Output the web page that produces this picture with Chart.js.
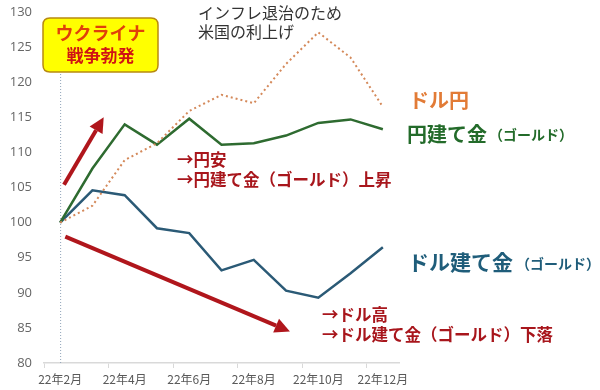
<!DOCTYPE html>
<html>
<head>
<meta charset="utf-8">
<script src="https://cdn.jsdelivr.net/npm/chart.js@4/dist/chart.umd.min.js"></script>
<style>
html,body{margin:0;padding:0;background:#fff;}
#wrap{width:600px;height:390px;position:relative;}
</style>
</head>
<body>
<div id="wrap"><canvas id="c" width="600" height="390"></canvas></div>
<script>
const months = ['22年2月','22年3月','22年4月','22年5月','22年6月','22年7月','22年8月','22年9月','22年10月','22年11月','22年12月'];
const dollarYen  = [100, 102.4, 108.9, 111.3, 115.9, 118.2, 117.0, 122.6, 127.1, 123.5, 116.5];
const yenGold    = [100, 107.7, 114.0, 111.1, 114.8, 111.1, 111.3, 112.4, 114.2, 114.7, 113.3];
const dollarGold = [100, 104.6, 103.9, 99.2, 98.5, 93.2, 94.7, 90.3, 89.3, 92.8, 96.5];
const yTicks = [80, 85, 90, 95, 100, 105, 110, 115, 120, 125, 130];

const JP = '"Noto Sans CJK JP", "Noto Sans", sans-serif';

function arrow(ctx, x1, y1, x2, y2, color, w, head) {
  const ang = Math.atan2(y2 - y1, x2 - x1);
  const bx = x2 - head * Math.cos(ang), by = y2 - head * Math.sin(ang);
  ctx.save();
  ctx.strokeStyle = color; ctx.fillStyle = color; ctx.lineWidth = w; ctx.lineCap = 'butt';
  ctx.beginPath(); ctx.moveTo(x1, y1); ctx.lineTo(bx, by); ctx.stroke();
  const hw = head * 0.5;
  ctx.beginPath();
  ctx.moveTo(x2, y2);
  ctx.lineTo(bx + hw * Math.sin(ang), by - hw * Math.cos(ang));
  ctx.lineTo(bx - hw * Math.sin(ang), by + hw * Math.cos(ang));
  ctx.closePath(); ctx.fill();
  ctx.restore();
}

function roundRect(ctx, x, y, w, h, r) {
  ctx.beginPath();
  ctx.moveTo(x + r, y);
  ctx.lineTo(x + w - r, y); ctx.quadraticCurveTo(x + w, y, x + w, y + r);
  ctx.lineTo(x + w, y + h - r); ctx.quadraticCurveTo(x + w, y + h, x + w - r, y + h);
  ctx.lineTo(x + r, y + h); ctx.quadraticCurveTo(x, y + h, x, y + h - r);
  ctx.lineTo(x, y + r); ctx.quadraticCurveTo(x, y, x + r, y);
  ctx.closePath();
}

const annot = {
  id: 'annot',
  beforeDatasetsDraw(chart) {
    const ctx = chart.ctx, xs = chart.scales.x, ys = chart.scales.y;
    const x0 = xs.getPixelForValue(0);
    ctx.save();
    ctx.strokeStyle = '#8fa3b8'; ctx.lineWidth = 1; ctx.setLineDash([1, 2]);
    ctx.beginPath(); ctx.moveTo(x0 + 0.5, ys.bottom); ctx.lineTo(x0 + 0.5, 72); ctx.stroke();
    ctx.restore();
  },
  afterDatasetsDraw(chart) {
    const ctx = chart.ctx, xs = chart.scales.x, ys = chart.scales.y;
    const px = v => xs.getPixelForValue(0) + v * (xs.getPixelForValue(1) - xs.getPixelForValue(0));
    const py = v => ys.getPixelForValue(v);
    arrow(ctx, px(0.12), py(105.4), px(1.35), py(115.0), '#b0161c', 4, 15);
    arrow(ctx, px(0.16), py(98.0), px(7.12), py(84.5), '#b0161c', 4, 15);

    ctx.save();
    roundRect(ctx, 43, 18, 115, 54, 7);
    ctx.fillStyle = '#ffff00'; ctx.fill();
    ctx.strokeStyle = '#b88a10'; ctx.lineWidth = 1.5; ctx.stroke();
    ctx.textAlign = 'center'; ctx.textBaseline = 'middle';
    ctx.fillStyle = '#e0400a'; ctx.font = 'bold 18px ' + JP;
    ctx.fillText('ウクライナ', 100.5, 33);
    ctx.fillStyle = '#d01414'; ctx.font = 'bold 17px ' + JP;
    ctx.fillText('戦争勃発', 100.5, 56);

    ctx.textAlign = 'left';
    ctx.fillStyle = '#333333'; ctx.font = '16px ' + JP;
    ctx.fillText('インフレ退治のため', 198, 13);
    ctx.fillText('米国の利上げ', 198, 32);

    ctx.fillStyle = '#e27b36'; ctx.font = 'bold 20px ' + JP;
    ctx.fillText('ドル円', 409, 100);

    ctx.fillStyle = '#236b2a'; ctx.font = 'bold 20px ' + JP;
    ctx.fillText('円建て金', 407, 134);
    let w = ctx.measureText('円建て金').width;
    ctx.font = 'bold 14px ' + JP;
    ctx.fillText('（ゴールド）', 407 + w + 2, 135);

    ctx.fillStyle = '#1f5d7a'; ctx.font = 'bold 21px ' + JP;
    ctx.fillText('ドル建て金', 408, 262);
    w = ctx.measureText('ドル建て金').width;
    ctx.font = 'bold 14px ' + JP;
    ctx.fillText('（ゴールド）', 408 + w + 3, 264);

    ctx.fillStyle = '#a8161c'; ctx.font = 'bold 16.5px ' + JP;
    ctx.fillText('→円安', 177, 160);
    ctx.fillText('→円建て金（ゴールド）上昇', 177, 180);
    ctx.fillText('→ドル高', 322, 315);
    ctx.fillText('→ドル建て金（ゴールド）下落', 322, 335);
    ctx.restore();
  }
};

new Chart(document.getElementById('c'), {
  type: 'line',
  data: {
    labels: months,
    datasets: [
      { label: 'ドル円', data: dollarYen, borderColor: '#d4895a', borderWidth: 2, borderDash: [2, 3], pointRadius: 0, tension: 0 },
      { label: '円建て金', data: yenGold, borderColor: '#2e6b30', borderWidth: 2.5, pointRadius: 0, tension: 0 },
      { label: 'ドル建て金', data: dollarGold, borderColor: '#2b5a76', borderWidth: 2.5, pointRadius: 0, tension: 0 }
    ]
  },
  options: {
    responsive: false,
    animation: false,
    layout: { padding: { top: 12, right: 201, bottom: 0, left: 0 } },
    plugins: { legend: { display: false }, tooltip: { enabled: false } },
    scales: {
      x: {
        offset: true,
        grid: {
          offset: true, drawOnChartArea: false, drawTicks: true, tickLength: 5,
          color: c => (c.index % 2 === 0 ? '#d9d9d9' : 'rgba(0,0,0,0)')
        },
        border: { display: true, color: '#d9d9d9', width: 1.5 },
        ticks: {
          autoSkip: false, maxRotation: 0, padding: 4, color: '#595959',
          font: { family: JP, size: 12 },
          callback: function (v, i) { return i % 2 === 0 ? months[i] : ''; }
        },
        afterFit: s => { s.height = 27; s.paddingLeft = 0; s.paddingRight = 0; }
      },
      y: {
        min: 80, max: 130,
        grid: { display: false, drawTicks: false },
        border: { display: false },
        afterBuildTicks: s => { s.ticks = yTicks.map(v => ({ value: v })); },
        ticks: { padding: 12, color: '#666666', font: { family: '"Open Sans", sans-serif', size: 13 } },
        afterFit: s => { s.width = 44; s.paddingTop = 0; s.paddingBottom = 0; }
      }
    }
  },
  plugins: [annot]
});
</script>
</body>
</html>
